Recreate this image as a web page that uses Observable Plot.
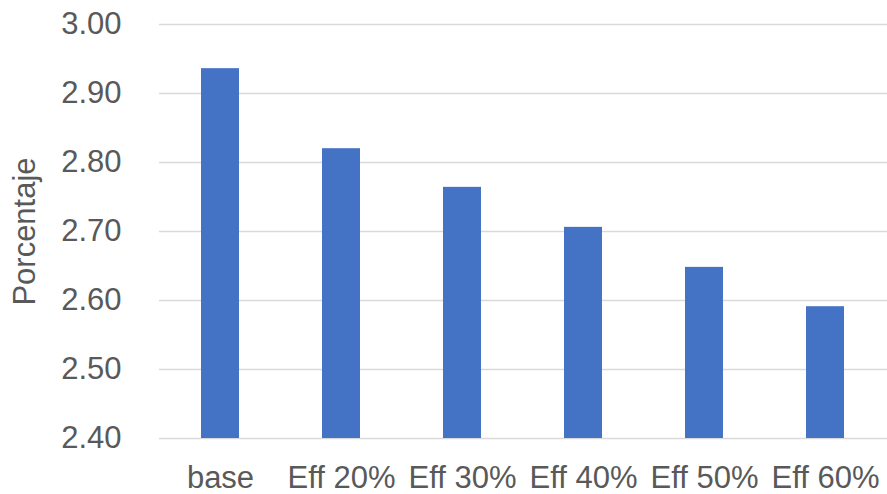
<!DOCTYPE html>
<html>
<head>
<meta charset="utf-8">
<script src="https://cdn.jsdelivr.net/npm/d3@7"></script>
<script src="https://cdn.jsdelivr.net/npm/@observablehq/plot@0.6"></script>
<style>
  html, body { margin: 0; padding: 0; background: #fff; }
  #chart svg { display: block; }
</style>
</head>
<body>
<div id="chart"></div>
<script>
const categories = ["base", "Eff 20%", "Eff 30%", "Eff 40%", "Eff 50%", "Eff 60%"];
const values = [2.936, 2.820, 2.764, 2.706, 2.648, 2.591];
const yTicks = [2.40, 2.50, 2.60, 2.70, 2.80, 2.90, 3.00];
const yLabel = "Porcentaje";

const data = categories.map((c, i) => ({category: c, value: values[i]}));

const chart = Plot.plot({
  width: 887,
  height: 494,
  marginLeft: 159,
  marginRight: 0,
  marginTop: 24,
  marginBottom: 56,
  style: {fontFamily: "'Liberation Sans', Arial, sans-serif", fontSize: "31px", color: "#595959", background: "#fff"},
  x: {domain: categories, paddingInner: 0.683, paddingOuter: 0.3415, label: null},
  y: {domain: [2.4, 3.0], label: null},
  marks: [
    Plot.ruleY(yTicks, {stroke: "#d9d9d9", strokeWidth: 1.5}),
    Plot.barY(data, {x: "category", y1: 2.4, y2: "value", fill: "#4472C4"}),
    Plot.axisY({ticks: yTicks, tickFormat: d3.format(".2f"), tickSize: 0, tickPadding: 38, fill: "#595959", fontSize: 31, label: null}),
    Plot.axisX({tickSize: 0, tickPadding: 27, fill: "#595959", fontSize: 31, label: null}),
    Plot.text([yLabel], {frameAnchor: "left", dx: -134, rotate: -90, text: d => d, fill: "#595959", fontSize: 31, textAnchor: "middle", lineAnchor: "middle"})
  ]
});
document.getElementById("chart").appendChild(chart);
</script>
</body>
</html>
